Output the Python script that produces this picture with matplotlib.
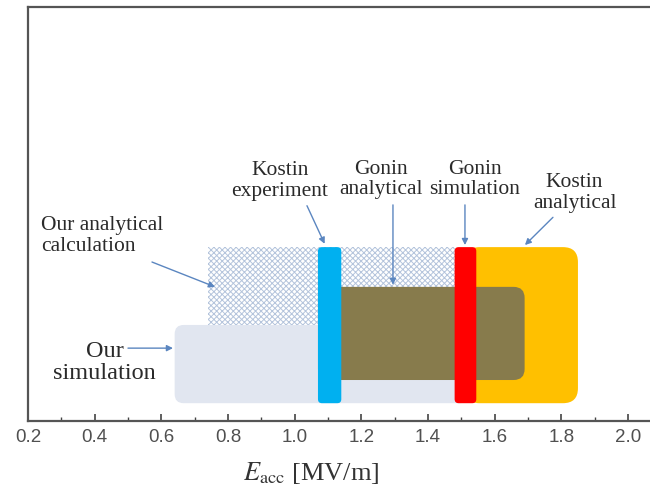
import matplotlib.pyplot as plt
from matplotlib.patches import FancyBboxPatch

# E_acc ranges [MV/m] for each result
names = ['Our simulation', 'Our analytical calculation', 'Kostin analytical',
         'Gonin analytical', 'Kostin experiment', 'Gonin simulation']
e_start = [0.64, 0.74, 1.51, 1.07, 1.07, 1.48]
e_end = [1.52, 1.48, 1.85, 1.69, 1.14, 1.545]

# vertical extent of each band (arbitrary units) and look
y_low = [0.043, 0.232, 0.043, 0.099, 0.043, 0.043]
y_high = [0.232, 0.42, 0.42, 0.324, 0.42, 0.42]
colors = ['#e1e6f0', 'white', '#ffc000', '#877b4c', '#00b0f0', '#ff0000']
radius_px = [9, 0, 15, 11, 4, 4]

xticks = [0.2, 0.4, 0.6, 0.8, 1.0, 1.2, 1.4, 1.6, 1.8, 2.0]

plt.rcParams['hatch.linewidth'] = 0.7
plt.rcParams['hatch.color'] = '#b4c4dc'
plt.rcParams['mathtext.fontset'] = 'stix'

fig = plt.figure(figsize=(6.5, 5), dpi=100)
ax = fig.add_axes([28 / 650, 79 / 500, 1.9 * 333.3 / 650, 414 / 500])
ax.set_xlim(0.2, 2.1)
ax.set_ylim(0, 1)

px_x = 1 / 333.3
aspect = (1 / 414) / px_x

for i, name in enumerate(names):
    r = radius_px[i] * px_x
    style = f'round,pad=0,rounding_size={r}' if r > 0 else 'square,pad=0'
    box = FancyBboxPatch((e_start[i], y_low[i]), e_end[i] - e_start[i], y_high[i] - y_low[i],
                         boxstyle=style, mutation_aspect=aspect,
                         facecolor=colors[i], edgecolor='none', linewidth=0, zorder=2 + i)
    if name == 'Our analytical calculation':
        box.set_hatch('xxxxxx')
        box.set_edgecolor('#b4c4dc')
        box.set_linewidth(0)
    ax.add_patch(box)

serif = 'Liberation Serif'
arrow = dict(arrowstyle='-|>', color='#5b86c0', lw=1.0, mutation_scale=9, shrinkA=0, shrinkB=0)

labels = [
    ('Kostin\nexperiment', (0.955, 0.580), 'center', 15.5, (1.037, 0.520), (1.09, 0.428)),
    ('Gonin\nanalytical', (1.258, 0.584), 'center', 15.5, (1.295, 0.522), (1.295, 0.329)),
    ('Gonin\nsimulation', (1.54, 0.584), 'center', 15.5, (1.511, 0.522), (1.511, 0.425)),
    ('Kostin\nanalytical', (1.84, 0.551), 'center', 15.5, (1.775, 0.492), (1.691, 0.425)),
    ('Our analytical\ncalculation', (0.238, 0.447), 'left', 15.5, (0.572, 0.384), (0.761, 0.324)),
    ('Our\nsimulation', (0.43, 0.141), 'center', 17.5, (0.50, 0.176), (0.635, 0.176)),
]
for text, pos, ha, size, start, tip in labels:
    ax.text(pos[0], pos[1], text, ha=ha, va='center', fontsize=size, family=serif,
            color='#2a2a2a', linespacing=1.1, zorder=20)
    ax.annotate('', xy=tip, xytext=start, arrowprops=arrow, zorder=20)

ax.set_xticks(xticks)
ax.set_xticklabels([f'{t:.1f}' for t in xticks], family='Liberation Sans')
ax.set_xticks([t + 0.1 for t in xticks[:-1]] + [2.1], minor=True)
ax.set_yticks([])
ax.tick_params(axis='x', which='major', direction='in', length=5, width=1.2,
               color='#444444', labelsize=13.5, labelcolor='#505050', pad=6)
ax.tick_params(axis='x', which='minor', direction='in', length=3, width=1.0, color='#444444')
for s in ax.spines.values():
    s.set_color('#555555')
    s.set_linewidth(1.6)

ax.set_xlabel(r'$E_{\mathrm{acc}}$ [MV/m]', family=serif, fontsize=19, color='#333333', labelpad=7)
ax.xaxis.set_label_coords((1.05 - 0.2) / 1.9, -0.095)

fig.savefig('out.png', dpi=100)
